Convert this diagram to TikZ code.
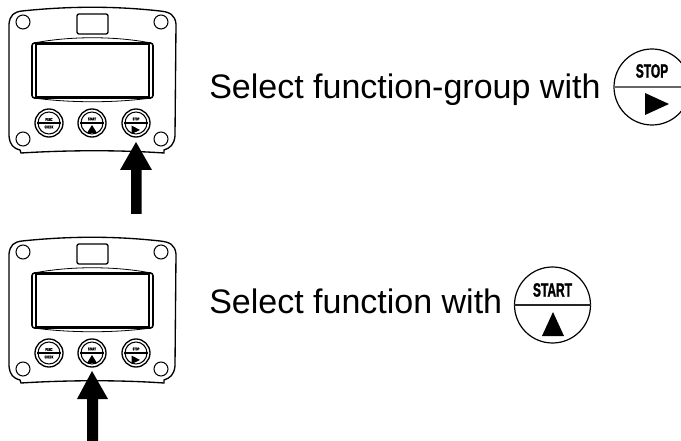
\documentclass[tikz,border=0pt]{standalone}
\usepackage{fontspec}
\setmainfont{Liberation Sans}
\newfontfamily\cond[FakeStretch=0.62,BoldFeatures={FakeStretch=0.62,FakeBold=1.2}]{Liberation Sans}
\tikzset{
  x=0.75pt,y=-0.75pt,
  body/.style={line width=1pt,draw=black},
  thin line/.style={line width=0.6pt,draw=black},
  screw/.style={circle,draw=black,line width=0.8pt,minimum size=10.5pt,inner sep=0pt},
  btnouter/.style={circle,draw=black,line width=1pt,minimum size=21pt,inner sep=0pt},
  btninner/.style={circle,draw=black,line width=0.8pt,minimum size=16.5pt,inner sep=0pt},
  caption/.style={anchor=base west,inner sep=0pt,font=\fontsize{25.5pt}{27pt}\selectfont},
  tiny label/.style={inner sep=0pt,font=\cond\bfseries\fontsize{3pt}{3pt}\selectfont},
  big label/.style={inner sep=0pt,font=\cond\bfseries\fontsize{14.5pt}{15pt}\selectfont},
  bigcircle/.style={circle,draw=black,line width=0.9pt,minimum size=57pt,inner sep=0pt},
}
\newcommand{\panel}[3]{%
 \begin{scope}[yshift=#1]
  \draw[body] (22,11) .. controls (70,6) and (115,6) .. (160,11) .. controls (170,12) and (175,15) .. (176,24)
     -- (175,136) .. controls (174,145) and (170,148) .. (164,150) -- (164,153)
     .. controls (120,150) and (70,150) .. (21,153) -- (20,150) .. controls (13,148) and (10,145) .. (9,136)
     -- (9,24) .. controls (10,15) and (14,12) .. (22,11) -- cycle;
  \node[screw] (s1#2) at (23,22) {};
  \node[screw] (s2#2) at (161,22) {};
  \node[screw] (s3#2) at (23,139) {};
  \node[screw] (s4#2) at (161,139) {};
  \draw[line width=1pt,rounded corners=1.5pt] (77,14) rectangle (108,34);
  \draw[line width=1.2pt,rounded corners=2pt] (32,43) rectangle (153,98);
  \draw[line width=1.2pt] (36,44.5) -- (36,96.5) -- (149,96.5) -- (149,44.5) -- cycle;
  \draw[thin line] (34,43) .. controls (70,36) and (115,36) .. (151,43);
  \draw[thin line] (34,98) .. controls (70,103) and (115,103) .. (151,98);
  \foreach \n/\cx in {a/49,b/92,c/136}{
    \node[btnouter] (o\n#2) at (\cx,123) {};
    \node[btninner] (i\n#2) at (\cx,123) {};
    \draw[line width=1.3pt] (i\n#2.west) -- (i\n#2.east);
  }
  \node[tiny label] (la#2) at (49,119.5) {FUNC};
  \node[tiny label] (lb#2) at (49,127) {CHECK};
  \node[tiny label] (lc#2) at (92,119) {START};
  \node[tiny label] (ld#2) at (136,119) {STOP};
  \fill (92,125) -- (97,133) -- (87,133) -- cycle;
  \fill (131.5,125.5) -- (140,130) -- (131.5,134) -- cycle;
  #3
 \end{scope}}
\begin{document}
\begin{tikzpicture}
\useasboundingbox (0,0) rectangle (681,441);
\fill[white] (0,0) rectangle (681,441);
\panel{0pt}{p}{}
\panel{-172.5pt}{q}{}
\fill (136,142) -- (152,170) -- (141.5,170) -- (141.5,214) -- (131,214) -- (131,170) -- (120,170) -- cycle;
\fill (92,371) -- (108,399) -- (98,399) -- (98,441) -- (87,441) -- (87,399) -- (77,399) -- cycle;
\node[caption] (t1) at (209,99) {Select function-group with};
\node[caption] (t2) at (209,314) {Select function with};
\node[bigcircle] (c1) at (652,87) {};
\draw[line width=1.4pt,draw=black!60] (c1.west) -- (c1.east);
\node[big label] (stop) at (652,71) {STOP};
\fill (645,93) -- (669,104) -- (645,115) -- cycle;
\node[bigcircle] (c2) at (552.5,305) {};
\draw[line width=1.4pt,draw=black!85] (c2.west) -- (c2.east);
\node[big label] (start) at (552.5,290) {START};
\fill (553,312) -- (564,336) -- (542,336) -- cycle;
\end{tikzpicture}
\end{document}
